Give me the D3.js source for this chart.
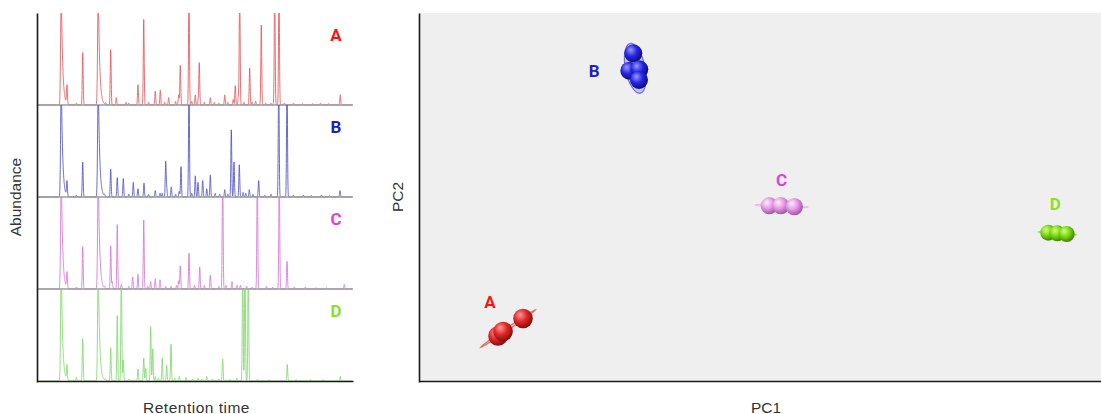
<!DOCTYPE html>
<html>
<head>
<meta charset="utf-8">
<script src="https://cdn.jsdelivr.net/npm/d3@7"></script>
<style>
  html, body { margin: 0; padding: 0; background: #fff; }
  svg { display: block; font-family: "Liberation Sans", Arial, sans-serif; }
</style>
</head>
<body>
<svg id="chart" width="1101" height="414"></svg>
<script>
// ---------------- data ----------------
const samples = ["A", "B", "C", "D"];
const timeDomain = [0, 35];               // retention time, min
const solventPeakTimes = [2.70, 6.81];    // early peaks with a tailing shape

// chromatogram peaks: [retention time (min), relative abundance (%)]
const peaksA = [
  [2.70,130],[3.33,20],[4.37,2],[5.08,57],[6.81,130],[7.6,2],[8.19,60],[8.81,8],[9.89,3],
  [10.2,2],[11.22,22],[11.86,93],[12.4,3],[13.14,15],[13.70,16],[14.2,3],[14.63,8],[15.4,4],
  [15.74,11],[15.92,43],[16.89,130],[17.2,4],[17.59,11],[17.9,5],[18.03,46],[18.6,3],[19.26,8],
  [19.7,3],[20.2,2],[20.86,11],[21.2,3],[21.8,6],[22.03,21],[22.37,8],[22.52,130],[23.0,3],
  [23.63,40],[23.9,3],[24.3,4],[24.92,87],[25.4,2],[26.0,2],[26.41,130],[26.89,130],[27.5,2],
  [28.5,2],[29.5,1.5],[30.6,1.5],[31.5,2],[32.4,1.5],[33.70,11]
];
const peaksB = [
  [2.70,130],[3.33,16],[4.37,2],[5.08,38],[6.81,130],[7.5,2],[8.19,30],[8.92,21],[9.59,20],
  [10.2,3],[10.70,16],[11.22,9],[11.89,15],[12.4,3],[13.14,7],[13.67,4],[13.9,4],[14.30,38],
  [14.41,10],[14.92,11],[15.4,3],[15.8,6],[16.00,33],[16.89,130],[17.2,4],[17.59,23],[17.89,16],
  [18.41,18],[18.86,9],[19.26,24],[19.8,4],[20.3,3],[20.86,8],[21.2,3],[21.59,73],[21.89,38],
  [22.48,35],[22.9,5],[23.2,4],[23.59,8],[24.0,3],[24.63,18],[25.3,2],[26.0,3],[26.86,130],
  [27.78,130],[28.5,2],[29.6,2],[30.5,1.5],[31.6,2],[32.5,1.5],[33.67,7]
];
const peaksC = [
  [2.70,130],[3.33,17],[4.37,2],[5.08,46],[6.81,130],[7.5,2],[8.19,47],[8.37,8],[8.92,70],
  [9.37,5],[10.2,3],[10.63,13],[11.22,16],[11.86,75],[12.3,3],[12.63,8],[13.14,11],[13.67,10],
  [14.3,3],[14.9,3],[15.5,4],[15.74,9],[15.92,25],[16.89,39],[17.5,4],[18.08,24],[18.6,4],
  [19.26,15],[20.2,3],[20.63,130],[21.0,4],[21.67,8],[22.22,4],[22.6,4],[23.3,3],[23.9,2],
  [24.48,130],[25.5,3],[26.2,2],[26.92,130],[27.78,30],[28.6,2],[29.8,2],[31.0,1.5],[32.2,1.5],
  [34.14,5]
];
const peaksD = [
  [2.70,130],[3.33,16],[4.37,4],[5.08,46],[6.81,130],[7.6,2],[8.19,36],[8.92,71],[9.37,130],
  [9.59,23],[10.2,2],[11.22,13],[11.86,25],[12.08,14],[12.63,59],[12.86,35],[13.14,5],[13.5,3],
  [13.92,25],[14.41,17],[14.89,40],[15.3,3],[15.81,5],[16.56,4],[17.3,2],[17.9,3],[18.3,2],
  [18.86,5],[19.5,2],[20.2,2],[20.63,24],[21.4,2],[22.2,3],[22.86,130],[23.11,130],[23.48,130],
  [24.5,2],[25.8,1.5],[27.81,18],[28.8,1.5],[30.4,1.5],[31.8,1.5],[33.70,5]
];

// PCA scores: [PC1, PC2] for each replicate
const scoresA = [[-38.42,-22.66],[-37.68,-21.93],[-34.75,-19.81]];
const scoresB = [[-18.58,23.43],[-19.16,20.59],[-17.70,20.82],[-17.74,19.08]];
const scoresC = [[1.36,-1.42],[3.04,-1.42],[5.03,-1.58]];
const scoresD = [[42.27,-5.82],[43.59,-5.92],[44.96,-6.03]];

// ---------------- styles ----------------
const labelColor = { A: "#fb1212", B: "#1e1ec8", C: "#de42de", D: "#8ee01c" };
const traceColor = { A: "#e4575c", B: "#5252c6", C: "#d676d6", D: "#80d86c" };
const sphereStops = {
  A: ["#ff9a9a", "#e22626", "#7a0c0c"],
  B: ["#9a9aff", "#2626e6", "#0c0c6a"],
  C: ["#fff0ff", "#e69ae6", "#9a4c9a"],
  D: ["#d8ff7a", "#78d812", "#3c7a06"]
};
const sphereR = { A: 9.8, B: 9, C: 8.6, D: 8 };
const labelOffset = { A: [-18, -27], B: [-41, 3], C: [0, -26], D: [-2, -29] };

const traces = { A: peaksA, B: peaksB, C: peaksC, D: peaksD };
const scores = { A: scoresA, B: scoresB, C: scoresC, D: scoresD };

const svg = d3.select("#chart");
const defs = svg.append("defs");

// ---------------- chromatograms ----------------
const chromX = d3.scaleLinear().domain(timeDomain).range([37, 352]);
const bandY = d3.scaleBand().domain(samples).range([13, 381]);

function signal(peaks) {
  const pts = [];
  const step = 0.01;
  for (let t = timeDomain[0]; t <= timeDomain[1] + 1e-9; t += step) {
    let v = 0;
    for (const [t0, h] of peaks) {
      const d = t - t0;
      if (d < -1 || d > 2) continue;
      const tailing = solventPeakTimes.some(s => Math.abs(s - t0) < 1e-6);
      if (tailing) {
        v += d < 0 ? h * Math.exp(-(d * d) / (2 * 0.07 * 0.07)) : h * Math.exp(-d / 0.15);
      } else {
        v += h * Math.exp(-(d * d) / (2 * 0.05 * 0.05));
      }
    }
    pts.push([t, v]);
  }
  return pts;
}

const chrom = svg.append("g").attr("class", "chromatograms");

samples.forEach((s, i) => {
  const top = bandY(s);
  const bottom = top + bandY.bandwidth();
  const y = d3.scaleLinear().domain([0, 100]).range([bottom, top]);

  defs.append("clipPath").attr("id", "clip-" + s)
    .append("rect")
    .attr("x", chromX.range()[0])
    .attr("y", top)
    .attr("width", chromX.range()[1] - chromX.range()[0] + 1)
    .attr("height", bottom - top + 1);

  const line = d3.line().x(d => chromX(d[0])).y(d => y(d[1]));

  chrom.append("path")
    .datum(signal(traces[s]))
    .attr("clip-path", `url(#clip-${s})`)
    .attr("fill", "none")
    .attr("stroke", traceColor[s])
    .attr("stroke-width", 1)
    .attr("stroke-opacity", 0.85)
    .attr("d", line);

  if (i < samples.length - 1) {
    chrom.append("line")
      .attr("x1", chromX.range()[0]).attr("x2", chromX.range()[1] + 1)
      .attr("y1", bottom).attr("y2", bottom)
      .attr("stroke", "#9a9a9a").attr("stroke-width", 1.5);
  }

  chrom.append("text")
    .attr("x", 336)
    .attr("y", top + 22)
    .attr("text-anchor", "middle")
    .attr("dominant-baseline", "central")
    .attr("font-family", "Roboto, 'Liberation Sans', sans-serif")
    .attr("font-weight", 700)
    .attr("font-size", 17)
    .attr("fill", labelColor[s])
    .text(s);
});

// chromatogram axes (lines only)
const chromYAxis = d3.scaleLinear().domain([0, 1]).range([bandY.range()[1] + 1, bandY.range()[0]]);
svg.append("g")
  .attr("transform", `translate(${chromX.range()[0]},0)`)
  .call(d3.axisLeft(chromYAxis).tickValues([]).tickSizeOuter(0))
  .call(g => g.select(".domain").attr("stroke", "#1a1a1a").attr("stroke-width", 1.6));
svg.append("g")
  .attr("transform", `translate(0,${bandY.range()[1]})`)
  .call(d3.axisBottom(chromX.copy().range([chromX.range()[0], chromX.range()[1] + 1])).tickValues([]).tickSizeOuter(0))
  .call(g => g.select(".domain").attr("stroke", "#1a1a1a").attr("stroke-width", 1.6));

svg.append("text")
  .attr("transform", `translate(15,${(bandY.range()[0] + bandY.range()[1]) / 2}) rotate(-90)`)
  .attr("text-anchor", "middle").attr("dominant-baseline", "central")
  .attr("font-size", 15.5).attr("fill", "#333")
  .text("Abundance");
svg.append("text")
  .attr("x", (chromX.range()[0] + chromX.range()[1]) / 2 + 2)
  .attr("y", 407)
  .attr("text-anchor", "middle").attr("dominant-baseline", "central")
  .attr("font-size", 15.5).attr("letter-spacing", 0.5).attr("fill", "#333")
  .text("Retention time");

// ---------------- PCA score plot ----------------
const pcX = d3.scaleLinear().domain([-50, 50]).range([419, 1101]);
const pcY = d3.scaleLinear().domain([-30, 30]).range([381, 13]);

svg.append("rect")
  .attr("x", pcX.range()[0]).attr("y", pcY.range()[1])
  .attr("width", pcX.range()[1] - pcX.range()[0])
  .attr("height", pcY.range()[0] - pcY.range()[1])
  .attr("fill", "#efefef");

svg.append("g")
  .attr("transform", `translate(${pcX.range()[0]},0)`)
  .call(d3.axisLeft(pcY.copy().range([pcY.range()[0] + 1, pcY.range()[1]])).tickValues([]).tickSizeOuter(0))
  .call(g => g.select(".domain").attr("stroke", "#1a1a1a").attr("stroke-width", 1.6));
svg.append("g")
  .attr("transform", `translate(0,${pcY.range()[0]})`)
  .call(d3.axisBottom(pcX).tickValues([]).tickSizeOuter(0))
  .call(g => g.select(".domain").attr("stroke", "#1a1a1a").attr("stroke-width", 1.6));

svg.append("text")
  .attr("transform", `translate(397,${(pcY.range()[0] + pcY.range()[1]) / 2}) rotate(-90)`)
  .attr("text-anchor", "middle").attr("dominant-baseline", "central")
  .attr("font-size", 15.5).attr("fill", "#333")
  .text("PC2");
svg.append("text")
  .attr("x", (pcX.range()[0] + pcX.range()[1]) / 2 + 6)
  .attr("y", 407)
  .attr("text-anchor", "middle").attr("dominant-baseline", "central")
  .attr("font-size", 15.5).attr("fill", "#333")
  .text("PC1");

// sphere shading
samples.forEach(s => {
  const g = defs.append("radialGradient")
    .attr("id", "sphere-" + s)
    .attr("cx", "40%").attr("cy", "38%").attr("r", "66%")
    .attr("fx", "35%").attr("fy", "30%");
  g.append("stop").attr("offset", "0%").attr("stop-color", sphereStops[s][0]);
  g.append("stop").attr("offset", "50%").attr("stop-color", sphereStops[s][1]);
  g.append("stop").attr("offset", "100%").attr("stop-color", sphereStops[s][2]);
});

const pca = svg.append("g").attr("class", "scores");

samples.forEach(s => {
  const pts = scores[s].map(d => [pcX(d[0]), pcY(d[1])]);
  const cx = d3.mean(pts, d => d[0]);
  const cy = d3.mean(pts, d => d[1]);
  const sxx = d3.mean(pts, d => (d[0] - cx) ** 2);
  const syy = d3.mean(pts, d => (d[1] - cy) ** 2);
  const sxy = d3.mean(pts, d => (d[0] - cx) * (d[1] - cy));
  const tr = sxx + syy, det = sxx * syy - sxy * sxy;
  const disc = Math.sqrt(Math.max(0, tr * tr / 4 - det));
  const l1 = tr / 2 + disc, l2 = Math.max(0, tr / 2 - disc);
  const angle = Math.abs(sxy) < 1e-6 ? (sxx >= syy ? 0 : 90)
    : Math.atan2(l1 - sxx, sxy) * 180 / Math.PI;
  const k = 2.6;

  const grp = pca.append("g");
  // group confidence ellipse
  grp.append("ellipse")
    .attr("transform", `translate(${cx},${cy}) rotate(${angle})`)
    .attr("rx", k * Math.sqrt(l1))
    .attr("ry", Math.max(1.3, k * Math.sqrt(l2)))
    .attr("fill", sphereStops[s][1]).attr("fill-opacity", 0.22)
    .attr("stroke", sphereStops[s][1]).attr("stroke-opacity", 0.6)
    .attr("stroke-width", 1.2);

  grp.selectAll("circle")
    .data(pts)
    .join("circle")
    .attr("cx", d => d[0])
    .attr("cy", d => d[1])
    .attr("r", sphereR[s])
    .attr("fill", `url(#sphere-${s})`);

  grp.append("text")
    .attr("x", cx + labelOffset[s][0])
    .attr("y", cy + labelOffset[s][1])
    .attr("text-anchor", "middle")
    .attr("dominant-baseline", "central")
    .attr("font-family", "Roboto, 'Liberation Sans', sans-serif")
    .attr("font-weight", 700)
    .attr("font-size", 17)
    .attr("fill", labelColor[s])
    .text(s);
});
</script>
</body>
</html>
